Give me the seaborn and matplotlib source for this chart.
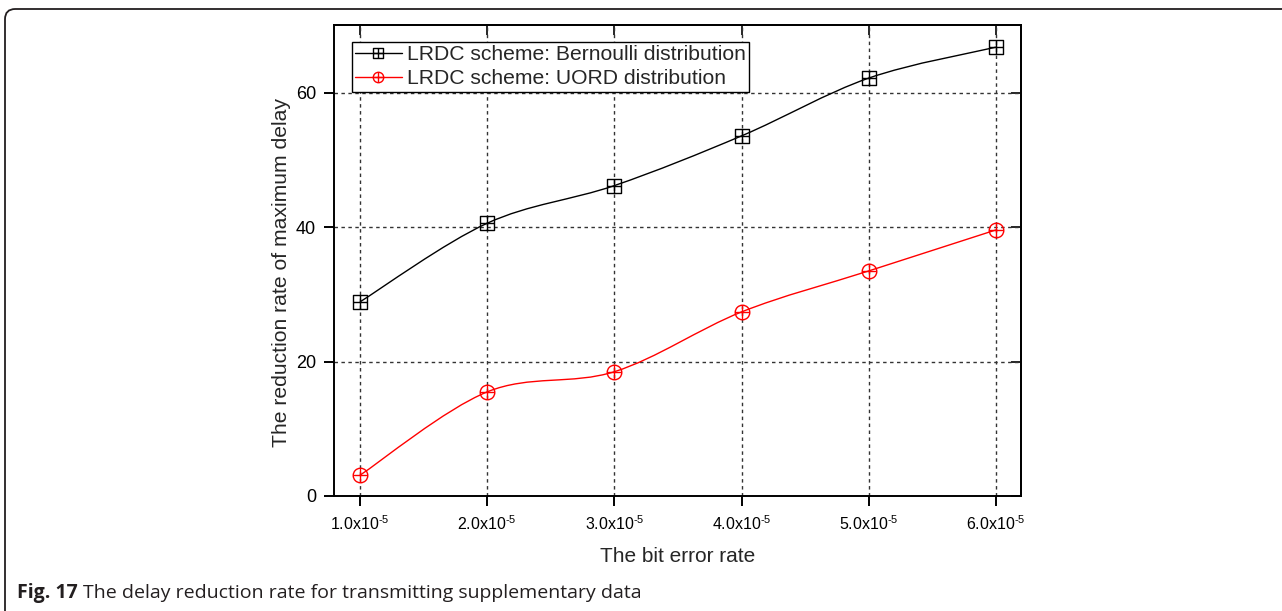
import numpy as np
import pandas as pd
import seaborn as sns
import matplotlib
matplotlib.use("Agg")
import matplotlib.pyplot as plt
from matplotlib.path import Path
from matplotlib.patches import PathPatch, FancyBboxPatch
from matplotlib.lines import Line2D

# ---- data ----
x_vals = [1, 2, 3, 4, 5, 6]
x_labels = [r"1.0x10$^{\text{-}5}$", r"2.0x10$^{\text{-}5}$", r"3.0x10$^{\text{-}5}$",
            r"4.0x10$^{\text{-}5}$", r"5.0x10$^{\text{-}5}$", r"6.0x10$^{\text{-}5}$"]
bernoulli = [28.9, 40.6, 46.2, 53.6, 62.2, 66.8]
uord = [3.1, 15.5, 18.5, 27.4, 33.5, 39.6]
series_names = ["LRDC scheme: Bernoulli distribution", "LRDC scheme: UORD distribution"]
y_ticks = [0, 20, 40, 60]

sns.set_style("ticks")
plt.rcParams["font.family"] = ["Liberation Sans", "DejaVu Sans"]
plt.rcParams["mathtext.fontset"] = "custom"
plt.rcParams["mathtext.rm"] = "Liberation Sans"
plt.rcParams["mathtext.it"] = "Liberation Sans:italic"
plt.rcParams["mathtext.bf"] = "Liberation Sans:bold"

fig = plt.figure(figsize=(12.82, 6.11), dpi=100)
W, H = 1282, 611

# outer rounded frame
frame = FancyBboxPatch((5 / W, -0.2), 1.2, 0.2 + (H - 9) / H,
                       boxstyle="round,pad=0,rounding_size=0.008",
                       transform=fig.transFigure, fill=False,
                       edgecolor="#231f20", linewidth=1.3, mutation_aspect=W / H)
fig.patches.append(frame)

ax = fig.add_axes([334 / W, 1 - 496 / H, (1021 - 334) / W, (496 - 25) / H])

# markers
sq = Path([(-1, -1), (1, -1), (1, 1), (-1, 1), (-1, -1),
           (-1, 0), (1, 0), (0, -1), (0, 1)],
          [Path.MOVETO, Path.LINETO, Path.LINETO, Path.LINETO, Path.CLOSEPOLY,
           Path.MOVETO, Path.LINETO, Path.MOVETO, Path.LINETO])
circ = Path.unit_circle()
plus = Path([(-1, 0), (1, 0), (0, -1), (0, 1)],
            [Path.MOVETO, Path.LINETO, Path.MOVETO, Path.LINETO])
circ_plus = Path.make_compound_path(circ, plus)


def smooth_path(xs, ys):
    xs = np.asarray(xs, float)
    ys = np.asarray(ys, float)
    pts = np.column_stack([xs, ys])
    n = len(pts)
    verts = [pts[0]]
    codes = [Path.MOVETO]
    for i in range(n - 1):
        p0 = pts[i - 1] if i > 0 else pts[i]
        p1 = pts[i]
        p2 = pts[i + 1]
        p3 = pts[i + 2] if i + 2 < n else pts[i + 1]
        c1 = p1 + (p2 - p0) / 6.0
        c2 = p2 - (p3 - p1) / 6.0
        verts += [c1, c2, p2]
        codes += [Path.CURVE4] * 3
    return Path(verts, codes)


colors = ["black", "red"]
markers = [sq, circ_plus]
msizes = [9.5, 10.5]
for ys, name, col, mk, ms in zip([bernoulli, uord], series_names, colors, markers, msizes):
    df = pd.DataFrame({"x": x_vals, "y": ys})
    ax.add_patch(PathPatch(smooth_path(x_vals, ys), facecolor="none",
                           edgecolor=col, linewidth=1.0, zorder=3))
    sns.lineplot(data=df, x="x", y="y", ax=ax, linestyle="", marker=mk,
                 markersize=ms, markerfacecolor="none", markeredgecolor=col,
                 markeredgewidth=1.0, color=col, estimator=None, sort=False,
                 zorder=4)

ax.set_xlim(0.795, 6.197)
ax.set_ylim(0, 70.1)
ax.set_xticks(x_vals)
ax.set_xticklabels(x_labels, fontsize=11.5)
ax.set_yticks(y_ticks)
ax.set_yticklabels([str(v) for v in y_ticks], fontsize=13)

ax.grid(True, color="#333333", linestyle=(0, (2.5, 2.5)), linewidth=1.0)
ax.set_axisbelow(True)

for s in ax.spines.values():
    s.set_visible(True)
    s.set_linewidth(1.4)
    s.set_color("black")

ax.tick_params(axis="both", which="major", direction="out", length=7, width=1.4,
               colors="black", pad=6)
sec_x = ax.secondary_xaxis("top")
sec_x.set_xticks(x_vals)
sec_x.tick_params(direction="in", length=7, width=1.4, labeltop=False)
sec_x.spines["top"].set_linewidth(1.4)
sec_y = ax.secondary_yaxis("right")
sec_y.set_yticks(y_ticks)
sec_y.tick_params(direction="in", length=7, width=1.4, labelright=False)
sec_y.spines["right"].set_linewidth(1.4)
ax.tick_params(axis="x", top=False)
ax.tick_params(axis="y", right=False)

ax.set_xlabel("The bit error rate", fontsize=15, labelpad=10)
ax.set_ylabel("The reduction rate of maximum delay", fontsize=15.2)
ax.yaxis.set_label_coords(-0.062, 0.475)

handles = [Line2D([], [], color=c, linewidth=1.0, marker=m, markersize=7.5,
                  markerfacecolor="none", markeredgecolor=c, markeredgewidth=1.0)
           for c, m in zip(colors, markers)]
leg = ax.legend(handles, series_names, loc="upper left",
                bbox_to_anchor=((352 - 334) / (1021 - 334), (496 - 42) / (496 - 25)),
                fontsize=15.2, frameon=True, fancybox=False, framealpha=1,
                edgecolor="black", handlelength=2.2, handletextpad=0.25,
                borderpad=0.15, labelspacing=0.25, borderaxespad=0)
leg.get_frame().set_linewidth(1.0)

# caption
cap_color = "#231f20"
t1 = fig.text(17 / W, 1 - 598 / H, "Fig. 17", fontsize=14, fontweight="bold",
              family=["Open Sans", "DejaVu Sans"], color=cap_color, va="baseline")
fig.canvas.draw()
bb = t1.get_window_extent()
fig.text((bb.x1 + 5) / W, 1 - 598 / H,
         "The delay reduction rate for transmitting supplementary data",
         fontsize=14, family=["Open Sans", "DejaVu Sans"], color=cap_color,
         va="baseline")

fig.savefig("out.png", dpi=100)
